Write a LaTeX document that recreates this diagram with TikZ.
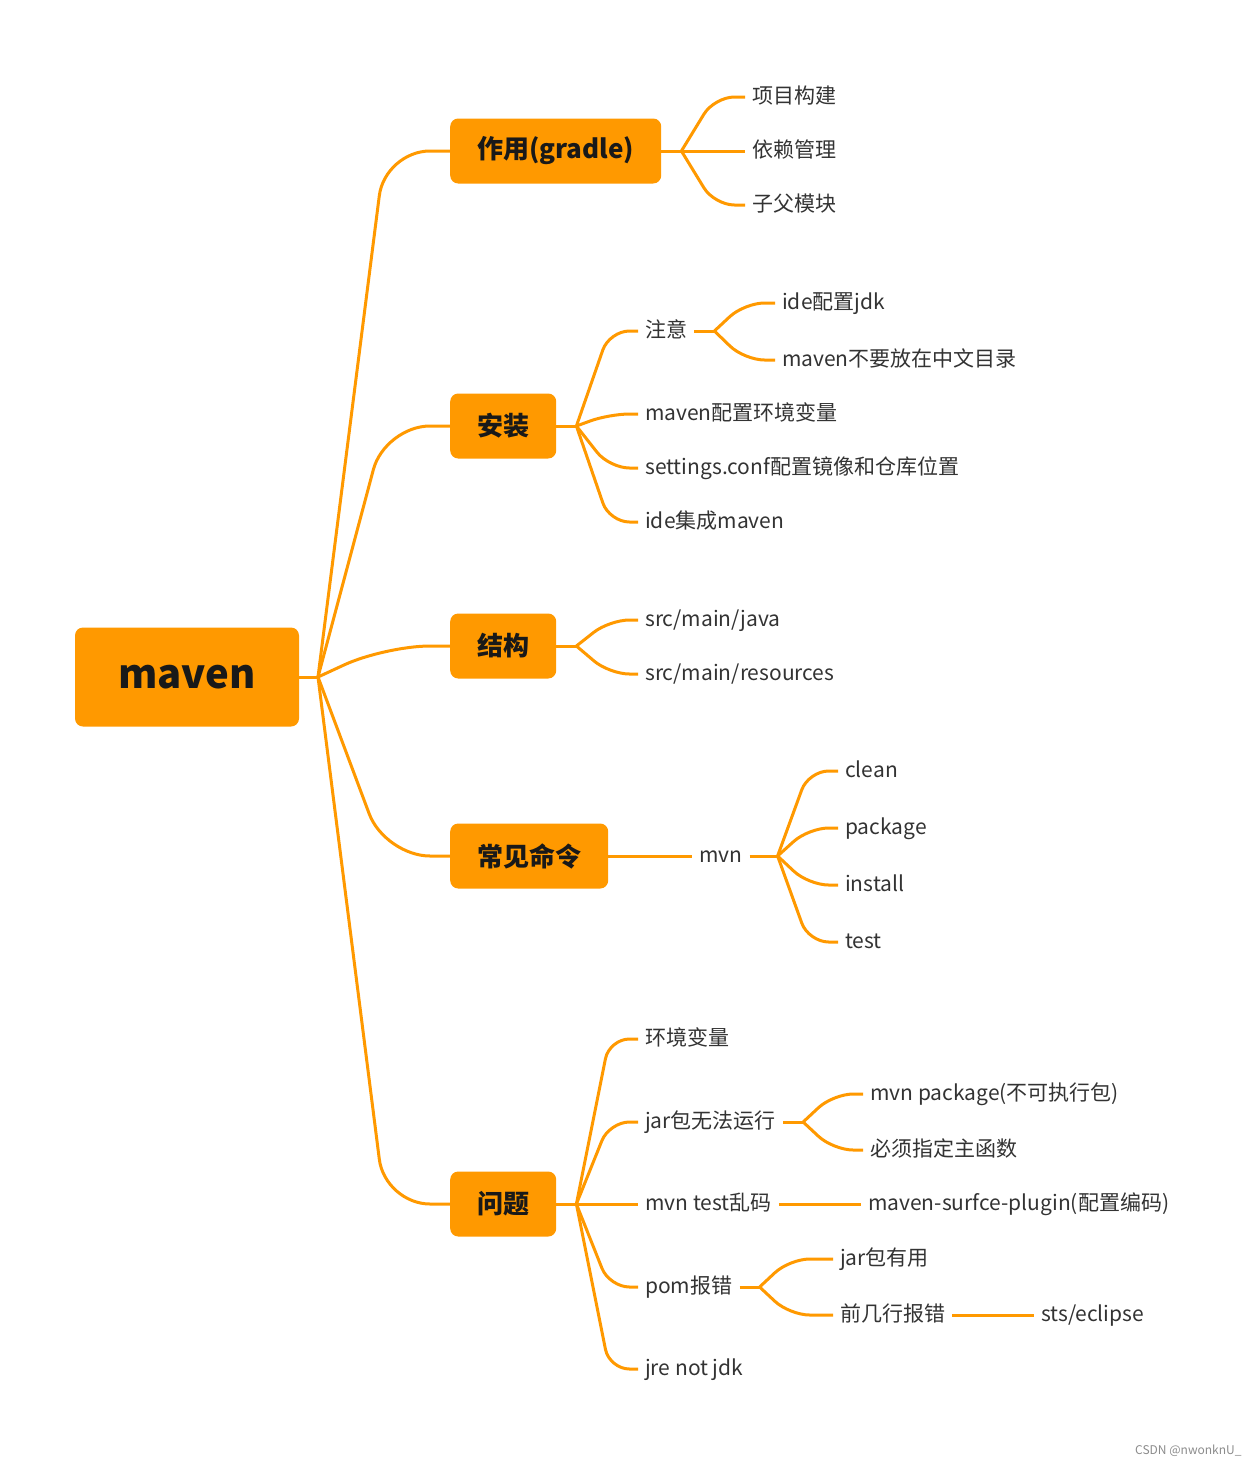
\documentclass[tikz,border=0pt]{standalone}
\usepackage{fontspec}
\setmainfont{Noto Sans CJK SC}
\usetikzlibrary{positioning}
\definecolor{mapor}{HTML}{FF9900}
\definecolor{mapink}{HTML}{333333}
\tikzset{
  rootbox/.style={fill=mapor, rounded corners=8pt, minimum width=224pt, minimum height=99pt,
    font=\fontsize{40}{48}\selectfont\bfseries, text=black!90},
  topicbox/.style={fill=mapor, rounded corners=8pt, minimum height=65pt, inner xsep=27pt,
    anchor=west, font=\fontsize{26}{32}\selectfont\bfseries, text=black!90},
  leaf/.style={anchor=west, inner xsep=7pt, inner ysep=0pt, text height=1.5em, text depth=0.16em,
    font=\fontsize{21}{24}\selectfont, text=mapink},
  link/.style={draw=mapor, line width=3pt, rounded corners=#1},
  link/.default=20pt,
}
\begin{document}
\begin{tikzpicture}[x=1pt,y=-1pt]
\fill[white] (0,0) rectangle (1258,1467);
\useasboundingbox (0,0) rectangle (1258,1467);

% root and topics
\node[rootbox] (root) at (187,677) {maven};
\node[topicbox] (zy) at (450,151) {作用(gradle)};
\node[topicbox] (az) at (450,426) {安装};
\node[topicbox] (jg) at (450,646) {结构};
\node[topicbox] (ml) at (450,856) {常见命令};
\node[topicbox] (wt) at (450,1204) {问题};

\coordinate (rj) at (318,677);
\coordinate (rk) at (385,0);
\draw[link] (root.east) -- (rj);
\foreach \t in {zy,az,jg,ml,wt}
  \draw[link=45pt] (rj) -- (rk |- \t.west) -- (\t.west);

% 作用
\node[leaf] (zy1) at (745,97) {项目构建};
\node[leaf] (zy2) at (745,151) {依赖管理};
\node[leaf] (zy3) at (745,205) {子父模块};
\coordinate[right=20pt of zy] (zyj);
\coordinate[right=33pt of zyj] (zyk);
\draw[link] (zy.east) -- (zyj);
\foreach \t in {zy1,zy2,zy3}
  \draw[link] (zyj) -- (zyk |- \t.west) -- (\t.west);

% 安装
\node[leaf] (az1) at (638,331) {注意};
\node[leaf] (az2) at (638,414) {maven配置环境变量};
\node[leaf] (az3) at (638,468) {settings.conf配置镜像和仓库位置};
\node[leaf] (az4) at (638,522) {ide集成maven};
\coordinate[right=20pt of az] (azj);
\coordinate[right=33pt of azj] (azk);
\draw[link] (az.east) -- (azj);
\foreach \t in {az1,az2,az3,az4}
  \draw[link] (azj) -- (azk |- \t.west) -- (\t.west);

\node[leaf] (zyi1) at (775,303) {ide配置jdk};
\node[leaf] (zyi2) at (775,360) {maven不要放在中文目录};
\coordinate[right=20pt of az1] (zyij);
\coordinate[right=30pt of zyij] (zyik);
\draw[link] (az1.east) -- (zyij);
\foreach \t in {zyi1,zyi2}
  \draw[link] (zyij) -- (zyik |- \t.west) -- (\t.west);

% 结构
\node[leaf] (jg1) at (638,620) {src/main/java};
\node[leaf] (jg2) at (638,674) {src/main/resources};
\coordinate[right=20pt of jg] (jgj);
\coordinate[right=33pt of jgj] (jgk);
\draw[link] (jg.east) -- (jgj);
\foreach \t in {jg1,jg2}
  \draw[link] (jgj) -- (jgk |- \t.west) -- (\t.west);

% 常见命令
\node[leaf] (mvn) at (692,856) {mvn};
\draw[link] (ml.east) -- (mvn.west);
\node[leaf] (mvn1) at (838,771) {clean};
\node[leaf] (mvn2) at (838,828) {package};
\node[leaf] (mvn3) at (838,885) {install};
\node[leaf] (mvn4) at (838,942) {test};
\coordinate[right=28pt of mvn] (mvnj);
\coordinate[right=31pt of mvnj] (mvnk);
\draw[link] (mvn.east) -- (mvnj);
\foreach \t in {mvn1,mvn2,mvn3,mvn4}
  \draw[link] (mvnj) -- (mvnk |- \t.west) -- (\t.west);

% 问题
\node[leaf] (wt1) at (638,1039) {环境变量};
\node[leaf] (wt2) at (638,1122) {jar包无法运行};
\node[leaf] (wt3) at (638,1204) {mvn test乱码};
\node[leaf] (wt4) at (638,1287) {pom报错};
\node[leaf] (wt5) at (638,1369) {jre not jdk};
\coordinate[right=20pt of wt] (wtj);
\coordinate[right=33pt of wtj] (wtk);
\draw[link] (wt.east) -- (wtj);
\foreach \t in {wt1,wt2,wt3,wt4,wt5}
  \draw[link] (wtj) -- (wtk |- \t.west) -- (\t.west);

\node[leaf] (jar1) at (863,1094) {mvn package(不可执行包)};
\node[leaf] (jar2) at (863,1150) {必须指定主函数};
\coordinate[right=20pt of wt2] (jarj);
\coordinate[right=30pt of jarj] (jark);
\draw[link] (wt2.east) -- (jarj);
\foreach \t in {jar1,jar2}
  \draw[link] (jarj) -- (jark |- \t.west) -- (\t.west);

\node[leaf] (plug) at (861,1204) {maven-surfce-plugin(配置编码)};
\draw[link] (wt3.east) -- (plug.west);

\node[leaf] (pom1) at (833,1259) {jar包有用};
\node[leaf] (pom2) at (833,1315) {前几行报错};
\coordinate[right=20pt of wt4] (pomj);
\coordinate[right=30pt of pomj] (pomk);
\draw[link] (wt4.east) -- (pomj);
\foreach \t in {pom1,pom2}
  \draw[link] (pomj) -- (pomk |- \t.west) -- (\t.west);

\node[leaf] (sts) at (1034,1315) {sts/eclipse};
\draw[link] (pom2.east) -- (sts.west);

\node[anchor=east, font=\fontsize{12}{14}\selectfont, text=black!45] (mark) at (1245,1451) {CSDN @nwonknU\_};
\end{tikzpicture}
\end{document}
